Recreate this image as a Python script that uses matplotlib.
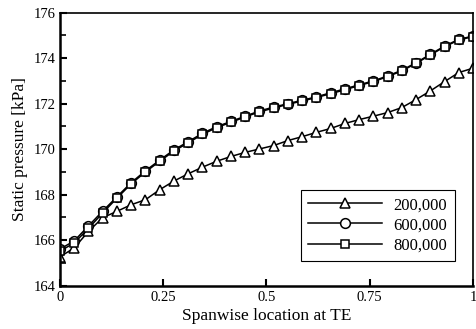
import numpy as np
import matplotlib
matplotlib.use('Agg')
import matplotlib.pyplot as plt
from matplotlib.ticker import MultipleLocator

plt.rcParams['font.family'] = 'Liberation Serif'

# spanwise stations (30 points from hub to tip)
span = np.linspace(0, 1, 30)

p_200k = [165.27, 165.66, 166.39, 166.99, 167.27, 167.56, 167.78, 168.22,
          168.60, 168.92, 169.21, 169.47, 169.68, 169.86, 170.01, 170.16,
          170.38, 170.55, 170.74, 170.91, 171.13, 171.30, 171.45, 171.61,
          171.83, 172.18, 172.56, 172.97, 173.37, 173.56]
p_600k = [165.61, 165.97, 166.63, 167.28, 167.91, 168.53, 169.05, 169.52,
          169.97, 170.33, 170.70, 170.99, 171.22, 171.45, 171.68, 171.85,
          172.00, 172.15, 172.30, 172.48, 172.65, 172.83, 173.00, 173.22,
          173.47, 173.80, 174.17, 174.53, 174.83, 174.97]
p_800k = [165.52, 165.88, 166.52, 167.20, 167.85, 168.48, 169.00, 169.47,
          169.92, 170.28, 170.65, 170.95, 171.18, 171.42, 171.64, 171.81,
          171.97, 172.12, 172.27, 172.44, 172.61, 172.80, 172.97, 173.19,
          173.44, 173.77, 174.14, 174.50, 174.80, 174.95]

fig = plt.figure(figsize=(4.77, 3.29), dpi=100)
ax = fig.add_axes([0.1258, 0.1316, 0.8658, 0.8298])

style = dict(color='black', lw=1.1, mfc='white', mec='black', mew=1.1)
ax.plot(span, p_200k, marker='^', ms=7, label='200,000', **style)
ax.plot(span, p_600k, marker='o', ms=7, label='600,000', **style)
ax.plot(span, p_800k, marker='s', ms=6, label='800,000', **style)

ax.set_xlim(0, 1)
ax.set_ylim(164, 176)
ax.set_xticks([0, 0.25, 0.5, 0.75, 1])
ax.set_xticklabels(['0', '0.25', '0.5', '0.75', '1'])
ax.yaxis.set_major_locator(MultipleLocator(2))
ax.yaxis.set_minor_locator(MultipleLocator(1))
ax.tick_params(direction='in', labelsize=10.5, top=False, right=False, length=5, width=1.5)
ax.tick_params(which='minor', direction='in', length=4, width=1.2)
for s in ['left', 'bottom']:
    ax.spines[s].set_linewidth(1.8)
for s in ['top', 'right']:
    ax.spines[s].set_linewidth(1.2)

ax.set_xlabel('Spanwise location at TE', fontsize=12.5, labelpad=3)
ax.set_ylabel('Static pressure [kPa]', fontsize=12.5, labelpad=4)

leg = ax.legend(loc='lower right', bbox_to_anchor=(0.976, 0.06), fontsize=12,
                handlelength=4.4, fancybox=False, framealpha=1,
                edgecolor='black', borderpad=0.45, labelspacing=0.25, handletextpad=0.7)
leg.get_frame().set_linewidth(0.8)

fig.savefig('out.png', dpi=100)
